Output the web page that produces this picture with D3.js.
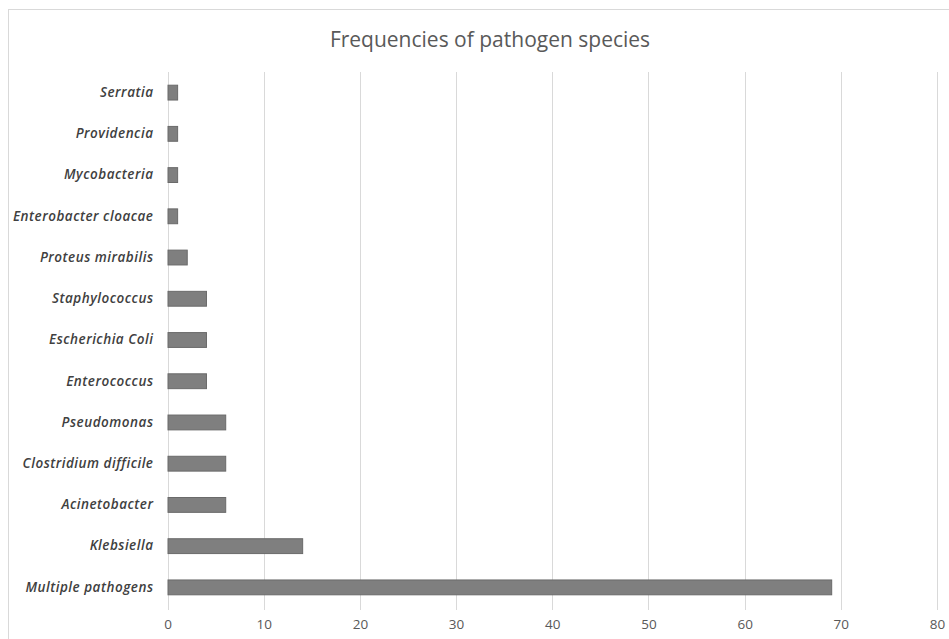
<!DOCTYPE html>
<html><head><meta charset="utf-8">
<script src="https://cdn.jsdelivr.net/npm/d3@7"></script>
<style>body{margin:0;background:#fff;}svg{display:block;}</style>
</head><body>
<svg id="chart" width="949" height="639"></svg>
<script>
const categories = ["Serratia","Providencia","Mycobacteria","Enterobacter cloacae","Proteus mirabilis","Staphylococcus","Escherichia Coli","Enterococcus","Pseudomonas","Clostridium difficile","Acinetobacter","Klebsiella","Multiple pathogens"];
const values = [1,1,1,1,2,4,4,4,6,6,6,14,69];
const xTicks = [0,10,20,30,40,50,60,70,80];
const title = "Frequencies of pathogen species";

const svg = d3.select("#chart");
const W = 949, H = 639;
const m = {left: 167.5, right: 12, top: 72, bottom: 31};

svg.append("rect").attr("x",0).attr("y",0).attr("width",W).attr("height",H).attr("fill","#fff");
svg.append("rect").attr("x",8.5).attr("y",9.5).attr("width",980).attr("height",700)
  .attr("fill","none").attr("stroke","#d9d9d9").attr("stroke-width",1);

const x = d3.scaleLinear().domain([0,80]).range([m.left, 937]);
const y = d3.scaleBand().domain(categories).range([m.top, 608]).paddingInner(0.64).paddingOuter(0.32);

// gridlines
svg.append("g").selectAll("line").data(xTicks).join("line")
  .attr("x1",d=>Math.round(x(d))+0.5).attr("x2",d=>Math.round(x(d))+0.5)
  .attr("y1",m.top).attr("y2",610)
  .attr("stroke","#d9d9d9").attr("stroke-width",1);

// bars
svg.append("g").selectAll("rect").data(categories).join("rect")
  .attr("x",x(0)+0.5).attr("y",d=>y(d))
  .attr("width",(d,i)=>x(values[i])-x(0)).attr("height",y.bandwidth())
  .attr("fill","#7f7f7f").attr("stroke","#6a6a6a").attr("stroke-width",1);

// x axis
const xAxis = d3.axisBottom(x).tickValues(xTicks).tickSize(0).tickPadding(0);
const gx = svg.append("g").attr("transform",`translate(0,${618})`).call(xAxis);
gx.select(".domain").remove();
gx.selectAll("text").attr("fill","#595959").style("font-family","'Open Sans', sans-serif").style("font-size","13.5px").attr("dy","0.85em");

// y axis
const yAxis = d3.axisLeft(y).tickSize(0).tickPadding(14);
const gy = svg.append("g").attr("transform",`translate(${m.left},0)`).call(yAxis);
gy.select(".domain").remove();
gy.selectAll("text").attr("fill","#404040").style("font-family","'Open Sans', sans-serif")
  .style("font-size","13.5px").style("font-style","italic").style("font-weight","600")
  .style("letter-spacing","0.5px");

// title
svg.append("text").attr("x",490).attr("y",47).attr("text-anchor","middle")
  .attr("fill","#595959").style("font-family","'Open Sans', sans-serif").style("font-size","21px")
  .text(title);
</script>
</body></html>
